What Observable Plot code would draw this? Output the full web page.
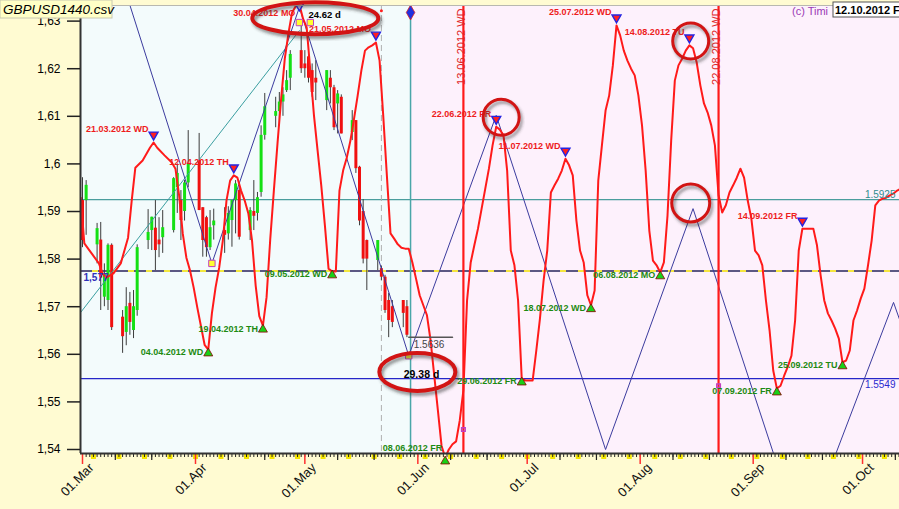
<!DOCTYPE html>
<html><head><meta charset="utf-8">
<script src="https://cdn.jsdelivr.net/npm/d3@7"></script>
<script src="https://cdn.jsdelivr.net/npm/@observablehq/plot@0.6"></script>
<style>
html,body{margin:0;padding:0;background:#fffbd2;}
#chart{width:899px;height:509px;overflow:hidden;}
</style></head><body><div id="chart"></div>
<script>
// ---------- DATA ----------
const candleDates = ["2012-03-01","2012-03-02","2012-03-05","2012-03-06","2012-03-07","2012-03-08","2012-03-09","2012-03-12","2012-03-13","2012-03-14","2012-03-15","2012-03-16","2012-03-19","2012-03-20","2012-03-21","2012-03-22","2012-03-23","2012-03-26","2012-03-27","2012-03-28","2012-03-29","2012-03-30","2012-04-02","2012-04-03","2012-04-04","2012-04-05","2012-04-06","2012-04-09","2012-04-10","2012-04-11","2012-04-12","2012-04-13","2012-04-16","2012-04-17","2012-04-18","2012-04-19","2012-04-20","2012-04-23","2012-04-24","2012-04-25","2012-04-26","2012-04-27","2012-04-30","2012-05-01","2012-05-02","2012-05-03","2012-05-04","2012-05-07","2012-05-08","2012-05-09","2012-05-10","2012-05-11","2012-05-14","2012-05-15","2012-05-16","2012-05-17","2012-05-18","2012-05-21","2012-05-22","2012-05-23","2012-05-24","2012-05-25","2012-05-28","2012-05-29"];
const candleOpen = [1.5923,1.5923,1.5830,1.5840,1.5720,1.5713,1.5829,1.5678,1.5646,1.5707,1.5650,1.5692,1.5839,1.5860,1.5865,1.5840,1.5845,1.5860,1.5950,1.5923,1.5900,1.5960,1.6007,1.5908,1.5887,1.5824,1.5870,1.5860,1.5853,1.5881,1.5923,1.5944,1.5860,1.5900,1.5896,1.5940,1.6060,1.6100,1.6110,1.6130,1.6154,1.6180,1.6238,1.6210,1.6225,1.6196,1.6180,1.6133,1.6180,1.6160,1.6126,1.6140,1.6066,1.6091,1.5993,1.5900,1.5839,1.5797,1.5780,1.5762,1.5713,1.5700,1.5713,1.5700];
const candleHigh = [1.5971,1.5965,1.5875,1.5877,1.5790,1.5832,1.5832,1.5692,1.5740,1.5730,1.5734,1.5830,1.5904,1.5888,1.5923,1.5887,1.5902,1.5971,1.6000,1.5944,1.5965,1.6070,1.6064,1.5908,1.5890,1.5902,1.5905,1.5908,1.5910,1.5923,1.5965,1.5950,1.5908,1.5965,1.5940,1.6080,1.6148,1.6140,1.6150,1.6160,1.6196,1.6238,1.6300,1.6238,1.6230,1.6210,1.6217,1.6196,1.6196,1.6165,1.6154,1.6145,1.6112,1.6091,1.5995,1.5925,1.5840,1.5839,1.5785,1.5766,1.5728,1.5713,1.5713,1.5713];
const candleLow = [1.5824,1.5850,1.5790,1.5692,1.5700,1.5692,1.5650,1.5602,1.5618,1.5640,1.5633,1.5680,1.5820,1.5818,1.5776,1.5803,1.5812,1.5855,1.5896,1.5839,1.5880,1.5950,1.5902,1.5804,1.5804,1.5818,1.5840,1.5812,1.5840,1.5825,1.5853,1.5840,1.5839,1.5860,1.5880,1.5930,1.6050,1.6076,1.6080,1.6100,1.6150,1.6154,1.6190,1.6180,1.6170,1.6140,1.6133,1.6112,1.6126,1.6070,1.6063,1.6063,1.6049,1.5980,1.5870,1.5790,1.5734,1.5776,1.5755,1.5686,1.5635,1.5656,1.5656,1.5635];
const candleClose = [1.5839,1.5955,1.5864,1.5760,1.5770,1.5829,1.5656,1.5637,1.5700,1.5667,1.5700,1.5824,1.5856,1.5888,1.5818,1.5830,1.5866,1.5969,1.5980,1.5881,1.5960,1.6000,1.5902,1.5839,1.5824,1.5866,1.5880,1.5850,1.5896,1.5923,1.5958,1.5846,1.5902,1.5890,1.5929,1.6060,1.6120,1.6110,1.6130,1.6145,1.6175,1.6230,1.6200,1.6200,1.6180,1.6150,1.6170,1.6196,1.6160,1.6076,1.6147,1.6063,1.6091,1.5990,1.5880,1.5800,1.5800,1.5839,1.5762,1.5692,1.5671,1.5667,1.5686,1.5640];

const curveDates = ["2012-02-29","2012-03-01","2012-03-03","2012-03-05","2012-03-06","2012-03-07","2012-03-09","2012-03-11","2012-03-13","2012-03-14","2012-03-15","2012-03-17","2012-03-19","2012-03-20","2012-03-21","2012-03-23","2012-03-25","2012-03-26","2012-03-27","2012-03-28","2012-03-29","2012-03-30","2012-03-31","2012-04-01","2012-04-03","2012-04-04","2012-04-05","2012-04-06","2012-04-07","2012-04-08","2012-04-09","2012-04-10","2012-04-11","2012-04-12","2012-04-13","2012-04-14","2012-04-15","2012-04-16","2012-04-17","2012-04-18","2012-04-19","2012-04-20","2012-04-21","2012-04-22","2012-04-23","2012-04-24","2012-04-25","2012-04-26","2012-04-27","2012-04-28","2012-04-29","2012-04-30","2012-05-01","2012-05-02","2012-05-03","2012-05-04","2012-05-05","2012-05-06","2012-05-07","2012-05-08","2012-05-09","2012-05-10","2012-05-11","2012-05-12","2012-05-13","2012-05-14","2012-05-15","2012-05-16","2012-05-17","2012-05-18","2012-05-19","2012-05-20","2012-05-21","2012-05-22","2012-05-23","2012-05-24","2012-05-25","2012-05-26","2012-05-27","2012-05-28","2012-05-29","2012-05-30","2012-05-31","2012-06-01","2012-06-02","2012-06-03","2012-06-04","2012-06-05","2012-06-06","2012-06-07","2012-06-08","2012-06-09","2012-06-10","2012-06-11","2012-06-12","2012-06-13","2012-06-14","2012-06-15","2012-06-16","2012-06-17","2012-06-18","2012-06-19","2012-06-20","2012-06-21","2012-06-22","2012-06-23","2012-06-24","2012-06-25","2012-06-26","2012-06-27","2012-06-28","2012-06-29","2012-06-30","2012-07-01","2012-07-02","2012-07-03","2012-07-04","2012-07-05","2012-07-06","2012-07-07","2012-07-08","2012-07-09","2012-07-10","2012-07-11","2012-07-12","2012-07-13","2012-07-14","2012-07-15","2012-07-16","2012-07-17","2012-07-18","2012-07-19","2012-07-20","2012-07-21","2012-07-22","2012-07-23","2012-07-24","2012-07-25","2012-07-26","2012-07-27","2012-07-28","2012-07-29","2012-07-30","2012-07-31","2012-08-01","2012-08-02","2012-08-03","2012-08-04","2012-08-05","2012-08-06","2012-08-07","2012-08-08","2012-08-09","2012-08-10","2012-08-11","2012-08-12","2012-08-13","2012-08-14","2012-08-15","2012-08-16","2012-08-17","2012-08-18","2012-08-19","2012-08-20","2012-08-21","2012-08-22","2012-08-23","2012-08-24","2012-08-25","2012-08-26","2012-08-27","2012-08-28","2012-08-29","2012-08-30","2012-08-31","2012-09-01","2012-09-02","2012-09-03","2012-09-04","2012-09-05","2012-09-06","2012-09-07","2012-09-08","2012-09-09","2012-09-10","2012-09-11","2012-09-12","2012-09-13","2012-09-14","2012-09-15","2012-09-16","2012-09-17","2012-09-18","2012-09-19","2012-09-20","2012-09-21","2012-09-22","2012-09-23","2012-09-24","2012-09-25","2012-09-26","2012-09-27","2012-09-28","2012-09-29","2012-09-30","2012-10-01","2012-10-02","2012-10-03","2012-10-04","2012-10-05","2012-10-06","2012-10-07","2012-10-08","2012-10-09","2012-10-10","2012-10-11"];
const curvePrices = [1.5929,1.5833,1.5812,1.5791,1.5770,1.5761,1.5770,1.5791,1.5845,1.5923,1.5992,1.6007,1.6034,1.6045,1.6034,1.6018,1.6003,1.5990,1.5934,1.5854,1.5803,1.5776,1.5740,1.5698,1.5620,1.5610,1.5686,1.5740,1.5782,1.5839,1.5923,1.5965,1.5976,1.5971,1.5944,1.5923,1.5896,1.5840,1.5745,1.5680,1.5660,1.5720,1.5841,1.5944,1.6043,1.6137,1.6221,1.6274,1.6318,1.6331,1.6335,1.6305,1.6287,1.6196,1.6102,1.6028,1.5955,1.5871,1.5780,1.5774,1.5774,1.5944,1.5986,1.6013,1.6049,1.6095,1.6144,1.6196,1.6238,1.6245,1.6249,1.6255,1.6217,1.6102,1.5976,1.5854,1.5843,1.5831,1.5824,1.5822,1.5822,1.5793,1.5759,1.5724,1.5703,1.5682,1.5629,1.5555,1.5482,1.5408,1.5383,1.5400,1.5411,1.5417,1.5461,1.5524,1.5713,1.5793,1.5829,1.5864,1.5906,1.5948,1.5990,1.6039,1.6078,1.6072,1.6060,1.5986,1.5818,1.5787,1.5713,1.5549,1.5545,1.5545,1.5545,1.5608,1.5675,1.5755,1.5818,1.5940,1.5955,1.5969,1.5986,1.6011,1.5997,1.5976,1.5881,1.5818,1.5793,1.5724,1.5703,1.5734,1.5965,1.6039,1.6112,1.6144,1.6207,1.6291,1.6270,1.6238,1.6217,1.6200,1.6186,1.6144,1.6081,1.5986,1.5860,1.5797,1.5787,1.5772,1.5793,1.5892,1.6049,1.6175,1.6207,1.6221,1.6238,1.6249,1.6243,1.6213,1.6165,1.6127,1.6108,1.6081,1.6039,1.5934,1.5898,1.5913,1.5940,1.5955,1.5971,1.5990,1.5971,1.5923,1.5885,1.5818,1.5808,1.5787,1.5713,1.5650,1.5566,1.5528,1.5534,1.5555,1.5574,1.5597,1.5671,1.5818,1.5864,1.5864,1.5864,1.5864,1.5829,1.5766,1.5713,1.5686,1.5671,1.5654,1.5633,1.5583,1.5587,1.5608,1.5671,1.5692,1.5717,1.5738,1.5787,1.5839,1.5913,1.5923,1.5927,1.5929,1.5934,1.5938,1.5944,1.5948];

const peakDates = ["2012-03-20","2012-04-11","2012-04-29","2012-05-20","2012-06-22","2012-07-11","2012-07-25","2012-08-14","2012-09-14"];
const peakPrices = [1.6045,1.5976,1.6335,1.6255,1.6078,1.6011,1.6291,1.6249,1.5864];
const peakLabels = ["21.03.2012 WD","12.04.2012 TH","30.04.2012 MO","21.05.2012 MO","22.06.2012 FR","11.07.2012 WD","25.07.2012 WD","14.08.2012 TU","14.09.2012 FR"];

const troughDates = ["2012-04-04","2012-04-19","2012-05-08","2012-06-08","2012-06-29","2012-07-18","2012-08-06","2012-09-07","2012-09-25"];
const troughPrices = [1.5610,1.5660,1.5774,1.5383,1.5549,1.5703,1.5772,1.5528,1.5583];
const troughLabels = ["04.04.2012 WD","19.04.2012 TH","09.05.2012 WD","08.06.2012 FR","29.06.2012 FR","18.07.2012 WD","06.08.2012 MO","07.09.2012 FR","25.09.2012 TU"];

const zigDates = ["2012-03-10","2012-04-05","2012-04-29","2012-05-29","2012-06-22","2012-07-22","2012-08-15","2012-09-14","2012-10-09","2012-10-12"];
const zigPrices = [1.6418,1.5791,1.6329,1.5597,1.6102,1.5400,1.5906,1.5207,1.5709,1.5644];

const trendDates = ["2012-02-29","2012-04-29"];
const trendPrices = [1.5688,1.6280];

const levelTeal = 1.5925, levelBlue = 1.5549, levelDash = 1.5775;
const levelTealText = "1.5925", levelBlueText = "1.5549", levelDashText = "1,577";

const cycleDates = ["2012-06-13","2012-08-22"];
const cycleLabels = ["13.06.2012 WD","22.08.2012 WD"];
const cycleMarkPrices = [1.5442,1.5534];
const nowDate = "2012-05-30";
const nowMarkPrice = 1.6318;
const markDate = "2012-05-22";
const markDotPrice = 1.6322;

const boxDates = ["2012-04-05","2012-05-29"];          // zigzag turning squares
const boxPrices = [1.5791,1.5597];
const dDates = ["2012-04-29","2012-05-02"];             // "D" squares at the top
const dPrices = [1.6297,1.6297];

const lastLowDates = ["2012-05-29","2012-06-10"];
const lastLowPrice = 1.5636;
const lastLowText = "1.5636";

const noteDates = ["2012-05-02","2012-06-02"];
const notePrices = [1.6312,1.5558];
const noteTexts = ["24.62 d","29.38 d"];

const ringDates = ["2012-05-04","2012-06-01","2012-06-24","2012-08-15","2012-08-15"];
const ringPrices = [1.6305,1.5562,1.6097,1.6257,1.5917];

const yTicks = [1.54,1.55,1.56,1.57,1.58,1.59,1.60,1.61,1.62,1.63];
const titleText = "GBPUSD1440.csv";
const dateBoxText = "12.10.2012 F";
const creditText = "(c) Timi";

// ---------- SETUP ----------
const D = s => new Date(s);
const N = s => new Date(+new Date(s) + 12 * 3600e3);
const xDomain = [new Date(Date.UTC(2012,1,29,10,50)), new Date(Date.UTC(2012,9,11,3,22))];
const yDomain = [1.53916, 1.63328];

const candles = candleDates.map((d,i) => ({date: D(d), o: candleOpen[i], h: candleHigh[i], l: candleLow[i], c: candleClose[i]}));
const curve = curveDates.map((d,i) => ({date: N(d), p: curvePrices[i]}));
const zig = zigDates.map((d,i) => ({date: N(d), p: zigPrices[i]}));
const trend = trendDates.map((d,i) => ({date: N(d), p: trendPrices[i]}));
const peaks = peakDates.map((d,i) => ({date: N(d), p: peakPrices[i], t: peakLabels[i], top: peakPrices[i] > yDomain[1] - 0.0015}));
const troughs = troughDates.map((d,i) => ({date: N(d), p: troughPrices[i], t: troughLabels[i], bottom: troughPrices[i] < yDomain[0] + 0.001}));

const downTri = {draw(ctx, size){ const r = Math.sqrt(size/Math.PI); ctx.moveTo(-r,-r*0.75); ctx.lineTo(r,-r*0.75); ctx.lineTo(0,r); ctx.closePath(); }};
const upTri = {draw(ctx, size){ const r = Math.sqrt(size/Math.PI); ctx.moveTo(-r,r*0.75); ctx.lineTo(r,r*0.75); ctx.lineTo(0,-r); ctx.closePath(); }};

const days = d3.utcDay.range(d3.utcDay.ceil(xDomain[0]), xDomain[1]);
const tens = days.filter(d => d.getUTCDate() === 10 || d.getUTCDate() === 20);
const months = d3.utcMonth.range(d3.utcMonth.ceil(xDomain[0]), xDomain[1]);
const sundays = d3.utcSunday.range(xDomain[0], xDomain[1]);
const yFmt = v => String(+v.toFixed(2)).replace(".", ",");
const font = "Liberation Sans, Arial, sans-serif";
const RED = "#ff1a1a", GREENTXT = "#1d8a12", REDTXT = "#ee1c1c";

const chart = Plot.plot({
  width: 899, height: 509,
  marginTop: 5, marginLeft: 80, marginRight: 0, marginBottom: 56,
  style: {background: "#fffbd2", fontFamily: font, color: "#000", overflow: "visible"},
  x: {type: "utc", domain: xDomain},
  y: {domain: yDomain},
  marks: [
    Plot.rect([{a: xDomain[0], b: D(nowDate)}], {x1: "a", x2: "b", fill: "#f3fbfc"}),
    Plot.rect([{a: D(nowDate), b: xDomain[1]}], {x1: "a", x2: "b", fill: "#fdf1fc"}),
    Plot.ruleY([levelTeal], {stroke: "#4a9d9d", strokeWidth: 1.2}),
    Plot.ruleY([levelBlue], {stroke: "#2626c8", strokeWidth: 1.2}),
    Plot.ruleY([levelDash], {stroke: "#f2e000", strokeWidth: 1.6}),
    Plot.ruleY([levelDash], {stroke: "#2a2a9a", strokeWidth: 1.6, strokeDasharray: "12,6"}),
    Plot.ruleX([D(markDate)], {stroke: "#b0b0b0", strokeWidth: 1, strokeDasharray: "6,4"}),
    Plot.ruleX([D(nowDate)], {stroke: "#4aa6a8", strokeWidth: 1.5}),
    Plot.ruleX(candles, {x: "date", y1: "l", y2: "h", stroke: "#3c3c3c", strokeWidth: 1, clip: true}),
    Plot.ruleX(candles, {x: "date", y1: "o", y2: "c", stroke: d => d.c >= d.o ? "#14e014" : "#f01010", strokeWidth: 3, clip: true}),
    Plot.line(trend, {x: "date", y: "p", stroke: "#3a9ea0", strokeWidth: 1, clip: true}),
    Plot.line(zig, {x: "date", y: "p", stroke: "#3b3b9e", strokeWidth: 1, clip: true}),
    Plot.line(curve, {x: "date", y: "p", stroke: RED, strokeWidth: 2, clip: true}),
    Plot.ruleX(cycleDates.map(N), {stroke: RED, strokeWidth: 2.2}),
    Plot.text(cycleDates, {x: d => N(d), text: (d,i) => cycleLabels[i], frameAnchor: "top", rotate: -90, textAnchor: "end", dx: -6, dy: 3, fill: "#e02626", fontSize: 11}),
    Plot.line(lastLowDates.map(d => ({date: N(d), p: lastLowPrice})), {x: "date", y: "p", stroke: "#555", strokeWidth: 1.5}),
    Plot.text([lastLowText], {x: N(lastLowDates[0]), y: lastLowPrice, text: d => d, textAnchor: "start", dx: 5, dy: 8, fill: "#444", fontSize: 10}),
    Plot.dot(boxDates, {x: d => N(d), y: (d,i) => boxPrices[i], symbol: "square", r: 3.6, fill: "#ffff30", stroke: "#c040c0", strokeWidth: 1}),
    Plot.dot(dDates, {x: d => N(d), y: (d,i) => dPrices[i], symbol: "square", r: 3.6, fill: "#ffff30", stroke: "#c040c0", strokeWidth: 1}),
    Plot.dot([D(markDate)], {x: d => d, y: markDotPrice, r: 1.5, fill: "#ff2020"}),
    Plot.dot([D(nowDate)], {x: d => d, y: nowMarkPrice, symbol: "diamond", r: 4.5, fill: "#2030e0", stroke: "#e02020", strokeWidth: 0.8}),
    Plot.dot(cycleDates, {x: d => N(d), y: (d,i) => cycleMarkPrices[i], symbol: "square", r: 2, fill: "none", stroke: "#c040c0"}),
    Plot.dot(peaks, {x: "date", y: "p", symbol: downTri, r: 4.5, fill: "#ff2020", stroke: "#2424e0", strokeWidth: 1.4, dy: -7, filter: d => !d.top}),
    Plot.dot(peaks, {x: "date", y: "p", symbol: downTri, r: 4.5, fill: "#c8b8f0", stroke: "#2424e0", strokeWidth: 1.4, dy: 2, filter: d => d.top}),
    Plot.text(peaks, {x: "date", y: "p", text: "t", textAnchor: "end", dx: -5, dy: -13, fill: REDTXT, fontWeight: "bold", fontSize: 9, filter: d => !d.top}),
    Plot.text(peaks, {x: "date", y: "p", text: "t", textAnchor: "end", dx: -4, dy: 9, fill: REDTXT, fontWeight: "bold", fontSize: 9, filter: d => d.top}),
    Plot.dot(troughs, {x: "date", y: "p", symbol: upTri, r: 4.5, fill: "#18d018", stroke: "#8a0000", strokeWidth: 0.8, dy: 3}),
    Plot.text(troughs, {x: "date", y: "p", text: "t", textAnchor: "end", dx: -5, dy: 3, fill: GREENTXT, fontWeight: "bold", fontSize: 9, filter: d => !d.bottom}),
    Plot.text(troughs, {x: "date", y: "p", text: "t", textAnchor: "end", dx: -3, dy: -9, fill: GREENTXT, fontWeight: "bold", fontSize: 9, filter: d => d.bottom}),
    Plot.text([0], {x: D(noteDates[0]), y: notePrices[0], text: () => noteTexts[0], textAnchor: "start", fill: "#000", fontWeight: "bold", fontSize: 9.5}),
    Plot.text([1], {x: D(noteDates[1]), y: notePrices[1], text: () => noteTexts[1], textAnchor: "middle", fill: "#000", fontWeight: "bold", fontSize: 10.5}),
    Plot.text([levelTealText], {y: levelTeal, text: d => d, frameAnchor: "right", textAnchor: "end", dx: -4, dy: -5, fill: "#2f8c8c", fontSize: 10}),
    Plot.text([levelBlueText], {y: levelBlue, text: d => d, frameAnchor: "right", textAnchor: "end", dx: -4, dy: 6, fill: "#2a2ad0", fontSize: 10}),
    Plot.text([levelDashText], {y: levelDash, text: d => d, frameAnchor: "left", textAnchor: "start", dx: 3, dy: 7, fill: "#3030b8", fontWeight: "bold", fontSize: 10}),
    Plot.ruleY([yDomain[1]], {stroke: "#b8b8b0", strokeWidth: 1}),
    Plot.ruleX([xDomain[0]], {stroke: "#333", strokeWidth: 2}),
    Plot.axisX({ticks: sundays, tickSize: 6, stroke: "#f5e600", strokeWidth: 5, tickFormat: () => ""}),
    Plot.axisX({ticks: days, tickSize: 4, stroke: "#222", strokeWidth: 1, tickFormat: () => ""}),
    Plot.axisX({ticks: tens, tickSize: 7, stroke: "#222", strokeWidth: 1.2, tickFormat: () => ""}),
    Plot.axisX({ticks: months, tickSize: 11, stroke: "#ff3030", strokeWidth: 1.5, tickFormat: () => ""}),
    Plot.ruleY([yDomain[0]], {stroke: "#333", strokeWidth: 2}),
    Plot.text(months, {x: d => d, text: d => d3.utcFormat("%d.%b")(d), frameAnchor: "bottom", rotate: -45, textAnchor: "end", dx: 12, dy: 15, fontSize: 13, fill: "#111"}),
    Plot.axisY({ticks: yTicks, tickSize: 13, tickPadding: 7, tickFormat: yFmt, fontSize: 12, stroke: "#222", strokeWidth: 1.5})
  ]
});
document.getElementById("chart").appendChild(chart);

// ---------- annotations on top (placed through the plot's scales) ----------
const sx = chart.scale("x"), sy = chart.scale("y");
const svg = d3.select(chart);
const defs = svg.append("defs");
defs.append("filter").attr("id","blur").append("feGaussianBlur").attr("stdDeviation", 1.6);
const ringRx = [63, 38, 18, 18, 19], ringRy = [16, 19, 18, 18, 19], ringW = [4, 4, 3, 3, 3];
const g = svg.append("g");
ringDates.forEach((d,i) => {
  const cx = sx.apply(D(d)), cy = sy.apply(ringPrices[i]);
  g.append("ellipse").attr("cx", cx+2).attr("cy", cy+3).attr("rx", ringRx[i]).attr("ry", ringRy[i])
    .attr("fill","none").attr("stroke","#333").attr("stroke-opacity",0.5).attr("stroke-width", ringW[i]).attr("filter","url(#blur)");
  g.append("ellipse").attr("cx", cx).attr("cy", cy).attr("rx", ringRx[i]).attr("ry", ringRy[i])
    .attr("fill","none").attr("stroke","#d21414").attr("stroke-width", ringW[i]);
});
const tg = svg.append("g").attr("text-anchor","start");
tg.append("rect").attr("x",0).attr("y",0).attr("width",112).attr("height",18).attr("fill","#ffffc6").attr("stroke","#c8c8b0");
tg.append("text").attr("x",3).attr("y",14).attr("text-anchor","start").attr("font-family",font).attr("font-style","italic").attr("font-size",13.5).attr("fill","#000").text(titleText);
tg.append("text").attr("x",792).attr("y",15).attr("text-anchor","start").attr("font-family",font).attr("font-size",11).attr("fill","#9a3ab5").text(creditText);
tg.append("rect").attr("x",833).attr("y",2).attr("width",70).attr("height",15).attr("fill","#fff").attr("stroke","#555");
tg.append("text").attr("x",835).attr("y",14).attr("text-anchor","start").attr("font-family",font).attr("font-weight","bold").attr("font-size",11).attr("fill","#000").text(dateBoxText);
</script></body></html>
